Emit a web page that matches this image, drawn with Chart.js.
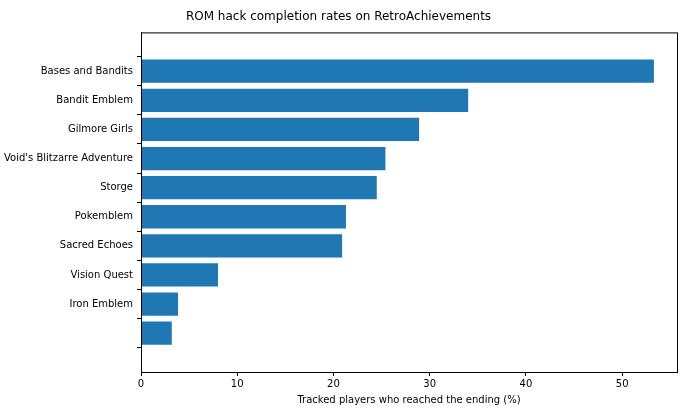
<!DOCTYPE html>
<html><head><meta charset="utf-8">
<script src="https://cdn.jsdelivr.net/npm/chart.js@4"></script>
<style>html,body{margin:0;padding:0;background:#fff}#w{width:690px;height:414px}</style>
</head><body><div id="w"><canvas id="c"></canvas></div>
<script>
const categories = ["Bases and Bandits","Bandit Emblem","Gilmore Girls","Void's Blitzarre Adventure","Storge","Pokemblem","Sacred Echoes","Vision Quest","Iron Emblem",""];
const completion = [53.3,34.0,28.9,25.4,24.5,21.3,20.9,8.0,3.85,3.2];
const xTicks = [0,10,20,30,40,50];
const font = {family:"DejaVu Sans", size:10};
const frame = {id:'frame', afterDraw(ch){const a=ch.chartArea,c=ch.ctx;c.save();c.strokeStyle='#000';c.lineWidth=1;c.strokeRect(a.left+0.5,a.top+0.5,a.right-a.left,a.bottom-a.top);c.restore();}};
new Chart(document.getElementById('c'),{
 type:'bar',
 data:{datasets:[{data:completion.map((v,i)=>({x:v,y:i})),backgroundColor:'#1f77b4',barPercentage:0.8,categoryPercentage:1}]},
 options:{indexAxis:'y',responsive:true,maintainAspectRatio:false,animation:false,
  layout:{padding:{left:0,right:13,top:2,bottom:4}},
  plugins:{legend:{display:false},tooltip:{enabled:false},
   title:{display:true,text:'ROM hack completion rates on RetroAchievements',color:'#000',font:{family:"DejaVu Sans",size:12,weight:'normal'},padding:{top:8,bottom:8}}},
  scales:{
   x:{type:'linear',min:0,max:55.7,afterBuildTicks(s){s.ticks=xTicks.map(v=>({value:v}));},
      grid:{drawOnChartArea:false,drawTicks:true,tickLength:4,tickColor:'#000'},border:{color:'#000'},
      ticks:{color:'#000',font,padding:2,maxRotation:0},
      title:{display:true,text:'Tracked players who reached the ending (%)',color:'#000',font,padding:{top:2}}},
   y:{type:'linear',min:-0.75,max:9.75,reverse:true,afterFit(s){s.width=141;},
      afterBuildTicks(s){s.ticks=categories.map((c,i)=>({value:i}));},
      grid:{drawOnChartArea:false,drawTicks:true,tickLength:4,tickColor:'#000'},border:{color:'#000'},
      ticks:{color:'#000',font,padding:4,callback:(v)=>categories[v]}}
  }},
 plugins:[frame]
});
</script></body></html>
